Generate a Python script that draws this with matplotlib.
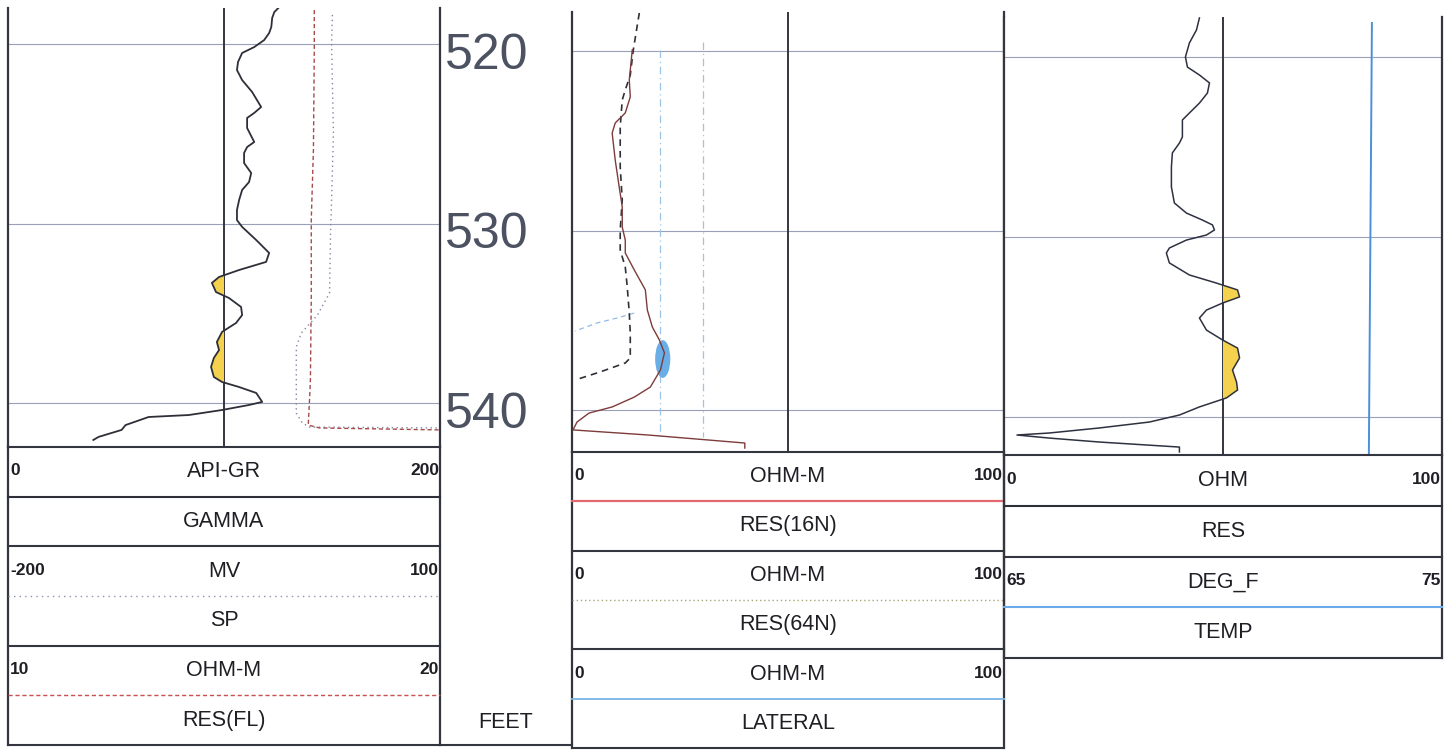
import numpy as np
import matplotlib.pyplot as plt
from matplotlib.patches import Ellipse

plt.rcParams['font.family'] = ['Liberation Sans', 'DejaVu Sans']

W, H = 1456, 752

# --- curves read off the scanned log (depth in feet) ---
# track 1
gr_depth = [517.94, 518.22, 518.55, 519.05, 519.39, 519.78, 520.17, 520.50, 521.00, 521.45,
            522.01, 522.67, 523.51, 523.84, 524.12, 524.68, 525.46, 525.74, 526.07, 526.63,
            527.19, 527.69, 528.13, 528.69, 529.25, 529.81, 530.19, 530.92, 531.64, 532.14,
            532.59, 532.98, 533.31, 533.82, 534.15, 534.65, 535.10, 535.54, 536.04, 536.60,
            537.05, 537.49, 537.99, 538.55, 538.83, 539.11, 539.44, 539.94, 540.11, 540.39,
            540.67, 540.78, 541.23, 541.50, 541.89, 542.06]
gr_api = [125.6, 123.3, 122.3, 121.9, 120.9, 118.6, 114.0, 108.4, 106.5, 106.0,
          108.4, 113.0, 117.2, 114.0, 110.7, 110.7, 114.0, 110.7, 109.3, 109.3,
          112.6, 111.6, 108.4, 107.0, 106.0, 106.0, 108.4, 114.9, 120.9, 119.5,
          107.0, 97.7, 94.4, 96.3, 102.3, 107.9, 108.4, 105.6, 99.1, 96.7,
          97.7, 95.3, 94.0, 95.3, 99.1, 107.0, 114.9, 117.7, 111.6, 99.1,
          83.7, 65.1, 54.4, 52.6, 41.9, 39.5]

sp_depth = [518.38, 519.94, 524.96, 528.69, 530.53, 533.87, 535.10, 536.10, 536.88,
            539.83, 540.56, 541.11, 541.34, 541.39]
sp_mv = [25.3, 24.7, 26.0, 24.7, 24.0, 23.3, 14.9, 3.7, 0.2, 0.2, 0.2, 4.4, 9.3, 100.0]

rfl_depth = [518.11, 520.33, 525.91, 529.81, 534.26, 538.72, 539.83, 541.23, 541.39, 541.50]
rfl_ohm = [17.09, 17.09, 17.07, 17.02, 17.02, 17.00, 16.98, 16.95, 17.21, 20.0]

# track 2
r16_depth = [519.94, 521.62, 522.56, 523.45, 524.01, 524.57, 526.07, 527.58, 528.69, 529.81,
             530.53, 531.25, 532.20, 533.31, 534.43, 535.38, 536.10, 536.82, 537.77, 538.72,
             539.28, 539.83, 540.17, 540.67, 541.11, 541.39, 541.84, 542.12]
r16_ohm = [13.95, 13.26, 13.49, 12.33, 10.00, 9.30, 10.00, 10.93, 11.63, 11.63,
           12.33, 12.33, 14.42, 16.98, 17.44, 18.60, 20.23, 21.40, 20.47, 18.14,
           14.42, 9.30, 3.95, 1.16, 0.23, 17.44, 40.0, 40.0]

r64_depth = [517.88, 519.94, 521.34, 522.17, 522.73, 524.23, 526.46, 528.30, 529.97, 531.09,
             532.03, 533.15, 534.60, 535.71, 537.10, 537.38, 537.88, 538.33]
r64_ohm = [15.58, 14.19, 13.49, 12.33, 11.63, 11.16, 11.16, 11.63, 11.16, 11.16,
           12.33, 12.79, 13.26, 13.49, 13.49, 12.33, 6.51, 0.70]

lat_depth = [534.60, 534.87, 535.15, 535.60]
lat_ohm = [14.4, 10.5, 5.8, 0.7]
lat_marks_ohm = [20.4, 30.3]
lat_marks_top = [519.94, 519.50]
lat_marks_bot = [541.50, 541.50]

blob_ohm, blob_depth, blob_w, blob_h = 21.0, 537.16, 3.5, 2.1

# track 3
res_depth = [517.83, 518.50, 519.22, 520.00, 520.56, 521.00, 521.44, 522.00, 522.56, 523.11,
             523.50, 523.94, 524.44, 524.78, 525.33, 526.11, 527.22, 528.11, 528.67, 529.06,
             529.33, 529.61, 529.89, 530.17, 530.61, 530.89, 531.44, 532.11, 532.56, 532.94,
             533.33, 533.67, 534.06, 534.50, 535.17, 535.72, 536.17, 536.72, 537.39, 538.06,
             538.50, 538.94, 539.44, 539.89, 540.28, 540.61, 540.89, 541.00, 541.17, 541.39,
             541.67, 541.94]
res_ohm = [44.62, 43.94, 42.33, 41.42, 41.88, 44.62, 46.91, 46.45, 44.62, 42.33,
           40.73, 40.73, 40.73, 40.05, 38.44, 38.22, 38.22, 38.90, 41.65, 45.31,
           47.60, 48.05, 46.22, 41.65, 37.76, 37.07, 37.76, 42.33, 48.51, 53.32,
           53.78, 49.89, 46.22, 44.62, 46.22, 49.89, 53.32, 53.78, 52.17, 53.09,
           53.32, 50.80, 44.62, 40.05, 33.18, 21.74, 10.30, 2.97, 10.30, 21.74,
           40.05, 40.05]

temp_depth = [518.11, 542.10]
temp_degf = [73.40, 73.33]

depth_labels = [520, 530, 540]

INK = '#34363f'
GRID = '#9aa0b8'
YELLOW = '#f4d24e'

fig = plt.figure(figsize=(W / 100, H / 100), dpi=100)


def track_axes(x0, x1, top, bottom, y520, ppf):
    ax = fig.add_axes([x0 / W, 1 - bottom / H, (x1 - x0) / W, (bottom - top) / H])
    ax.set_ylim(520 + (bottom - y520) / ppf, 520 + (top - y520) / ppf)
    ax.set_xticks([])
    ax.set_yticks([])
    for s in ['top', 'bottom']:
        ax.spines[s].set_visible(False)
    for s in ['left', 'right']:
        ax.spines[s].set_color(INK)
        ax.spines[s].set_linewidth(1.6)
    for d in depth_labels:
        ax.axhline(d, color=GRID, lw=0.8, zorder=0)
    return ax


def twin(ax, lo, hi):
    t = ax.twiny()
    t.set_xlim(lo, hi)
    t.axis('off')
    return t


# --- track 1: GR / SP / RES(FL) ---
ax1 = track_axes(8, 440, 8, 447, 44, 17.95)
ax1.set_xlim(0, 200)
ax1.axvline(100, color=INK, lw=1.4, zorder=1)
gd = np.array(gr_depth)
ga = np.array(gr_api)
ax1.fill_betweenx(gd, ga, 100, where=(ga < 100) & (gd < 539.5) & (gd > 532),
                  interpolate=True, color=YELLOW, lw=0, zorder=2)
ax1.plot(gr_api, gr_depth, color='#2e2f38', lw=1.3, zorder=3)
sp_ax = twin(ax1, -200, 100)
sp_ax.plot(sp_mv, sp_depth, color='#8088a4', lw=1.0, ls=(0, (1, 2.5)))
fl_ax = twin(ax1, 10, 20)
fl_ax.plot(rfl_ohm, rfl_depth, color='#a84a4a', lw=1.0, ls=(0, (3, 2)))

# --- depth column ---
dax = fig.add_axes([440 / W, 1 - 452 / H, 132 / W, 440 / H])
dax.set_ylim(520 + (452 - 51) / 17.95, 520 + (12 - 51) / 17.95)
dax.axis('off')
for d in depth_labels:
    dax.text(0.04, d + 1.0, str(d), transform=dax.get_yaxis_transform(),
             fontsize=36, color='#4d5262', ha='left', va='baseline')

# --- track 2: RES(16N) / RES(64N) / LATERAL ---
ax2 = track_axes(572, 1004, 12, 452, 51, 17.95)
ax2.set_xlim(0, 100)
ax2.axvline(50, color=INK, lw=1.4, zorder=1)
for v, a, b in zip(lat_marks_ohm, lat_marks_top, lat_marks_bot):
    ax2.plot([v, v], [a, b], color='#9cc4e6', lw=0.9, ls=(0, (6, 3, 1, 3)))
ax2.add_patch(Ellipse((blob_ohm, blob_depth), blob_w, blob_h, color='#6aaee8', lw=0, zorder=2))
ax2.plot(r64_ohm, r64_depth, color='#2f3038', lw=1.2, ls=(0, (4, 3)), zorder=3)
ax2.plot(r16_ohm, r16_depth, color='#7d3b3b', lw=1.0, zorder=3)
ax2.plot(lat_ohm, lat_depth, color='#8fbde6', lw=0.9, ls=(0, (4, 3)))

# --- track 3: RES / TEMP ---
ax3 = track_axes(1004, 1442, 17, 455, 57, 18.0)
ax3.set_xlim(0, 100)
ax3.axvline(50, color=INK, lw=1.4, zorder=1)
rd = np.array(res_depth)
ro = np.array(res_ohm)
ax3.fill_betweenx(rd, ro, 50, where=(ro > 50) & (rd < 539.5),
                  interpolate=True, color=YELLOW, lw=0, zorder=2)
ax3.plot(res_ohm, res_depth, color='#2e3140', lw=1.1, zorder=3)
t_ax = twin(ax3, 65, 75)
t_ax.plot(temp_degf, temp_depth, color='#4a90d9', lw=1.4)

# --- header blocks ---
ov = fig.add_axes([0, 0, 1, 1])
ov.set_xlim(0, W)
ov.set_ylim(H, 0)
ov.axis('off')

TXT = '#1e1e24'


def header(x0, x1, top, bottom, curves):
    rowh = (bottom - top) / (2 * len(curves))
    ov.plot([x0, x1], [top, top], color=INK, lw=1.5)
    ov.plot([x0, x0], [top, bottom], color=INK, lw=1.6)
    ov.plot([x1, x1], [top, bottom], color=INK, lw=1.6)
    xm = (x0 + x1) / 2
    for i, (lo, hi, unit, name, style) in enumerate(curves):
        y0 = top + 2 * i * rowh
        ov.plot([x0, x1], [y0 + rowh, y0 + rowh], **style)
        ov.plot([x0, x1], [y0 + 2 * rowh, y0 + 2 * rowh], color=INK, lw=1.5)
        yc = y0 + rowh / 2
        ov.text(xm, yc, unit, fontsize=15.5, color=TXT, ha='center', va='center')
        ov.text(x0 + 2, yc - 1, lo, fontsize=12.5, fontweight='bold', color=TXT,
                ha='left', va='center')
        ov.text(x1 - 1, yc - 1, hi, fontsize=12.5, fontweight='bold', color=TXT,
                ha='right', va='center')
        ov.text(xm, y0 + 1.5 * rowh, name, fontsize=15.5, color=TXT, ha='center', va='center')


header(8, 440, 447, 745, [
    ('0', '200', 'API-GR', 'GAMMA', dict(color='#2e2f38', lw=1.5)),
    ('-200', '100', 'MV', 'SP', dict(color='#8c93ad', lw=1.0, ls=(0, (1, 3)))),
    ('10', '20', 'OHM-M', 'RES(FL)', dict(color='#c8504f', lw=1.0, ls=(0, (3, 2)))),
])
header(572, 1004, 452, 748, [
    ('0', '100', 'OHM-M', 'RES(16N)', dict(color='#e3686f', lw=1.6)),
    ('0', '100', 'OHM-M', 'RES(64N)', dict(color='#a9a77a', lw=1.0, ls=(0, (1, 2)))),
    ('0', '100', 'OHM-M', 'LATERAL', dict(color='#7ab6e6', lw=1.3)),
])
header(1004, 1442, 455, 658, [
    ('0', '100', 'OHM', 'RES', dict(color='#2e2f38', lw=1.5)),
    ('65', '75', 'DEG_F', 'TEMP', dict(color='#6aaae8', lw=1.5)),
])
# depth column box
ov.plot([440, 572], [745, 745], color=INK, lw=1.5)
ov.text(506, 722, 'FEET', fontsize=15.5, color=TXT, ha='center', va='center')

fig.savefig('out.png', dpi=100, facecolor='white')
